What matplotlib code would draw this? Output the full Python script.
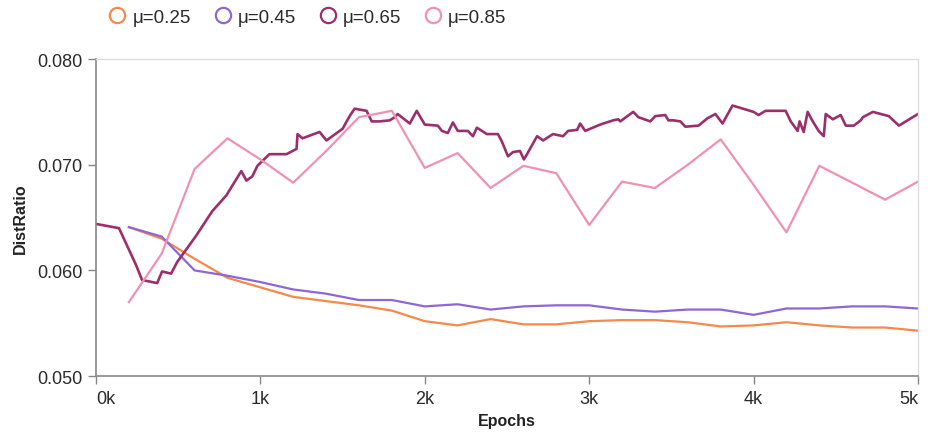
import numpy as np
import matplotlib.pyplot as plt
from matplotlib.lines import Line2D

plt.rcParams['font.family'] = ['Liberation Sans', 'DejaVu Sans']

# evaluation epochs shared by the three smoother runs
epochs = [200, 400, 600, 800, 1000, 1200, 1400, 1600, 1800, 2000,
          2200, 2400, 2600, 2800, 3000, 3200, 3400, 3600, 3800, 4000,
          4200, 4400, 4600, 4800, 5000]

mu025 = [0.0641, 0.0630, 0.0611, 0.0593, 0.0584, 0.0575, 0.0571, 0.0567, 0.0562, 0.0552,
         0.0548, 0.0554, 0.0549, 0.0549, 0.0552, 0.0553, 0.0553, 0.0551, 0.0547, 0.0548,
         0.0551, 0.0548, 0.0546, 0.0546, 0.0543]

mu045 = [0.0641, 0.0632, 0.0600, 0.0595, 0.0589, 0.0582, 0.0578, 0.0572, 0.0572, 0.0566,
         0.0568, 0.0563, 0.0566, 0.0567, 0.0567, 0.0563, 0.0561, 0.0563, 0.0563, 0.0558,
         0.0564, 0.0564, 0.0566, 0.0566, 0.0564]

mu085 = [0.0570, 0.0616, 0.0696, 0.0725, 0.0705, 0.0683, 0.0713, 0.0745, 0.0751, 0.0697,
         0.0711, 0.0678, 0.0699, 0.0692, 0.0643, 0.0684, 0.0678, 0.0700, 0.0724, 0.0681,
         0.0636, 0.0699, 0.0683, 0.0667, 0.0684]

# mu=0.65 is logged much more often
epochs065 = [0, 140, 244, 280, 372, 402, 457, 494, 610, 707, 793, 884, 915, 951, 982,
             1055, 1159, 1220, 1226, 1256, 1360, 1402, 1500, 1543, 1573, 1646, 1677,
             1726, 1787, 1817, 1835, 1909, 1951, 2000, 2079, 2104, 2140, 2171, 2201,
             2262, 2293, 2317, 2348, 2378, 2445, 2469, 2506, 2537, 2579, 2603, 2622,
             2683, 2720, 2780, 2841, 2872, 2927, 2945, 2976, 3067, 3146, 3177, 3189,
             3268, 3299, 3372, 3402, 3463, 3482, 3512, 3555, 3585, 3665, 3720, 3768,
             3811, 3872, 4000, 4030, 4073, 4195, 4226, 4268, 4280, 4305, 4329, 4360,
             4396, 4427, 4439, 4482, 4530, 4561, 4610, 4652, 4665, 4726, 4774, 4823,
             4884, 5000]
mu065 = [0.0644, 0.0640, 0.0605, 0.0591, 0.0588, 0.0599, 0.0597, 0.0608, 0.0633, 0.0656,
         0.0671, 0.0694, 0.0685, 0.0689, 0.0699, 0.0710, 0.0710, 0.0715, 0.0729, 0.0725,
         0.0731, 0.0723, 0.0734, 0.0746, 0.0753, 0.0751, 0.0741, 0.0741, 0.0742, 0.0745,
         0.0748, 0.0739, 0.0751, 0.0738, 0.0737, 0.0732, 0.0730, 0.0740, 0.0732, 0.0732,
         0.0727, 0.0735, 0.0732, 0.0729, 0.0729, 0.0722, 0.0708, 0.0712, 0.0713, 0.0705,
         0.0710, 0.0727, 0.0723, 0.0729, 0.0727, 0.0732, 0.0733, 0.0739, 0.0732, 0.0738,
         0.0742, 0.0743, 0.0741, 0.0750, 0.0745, 0.0741, 0.0746, 0.0747, 0.0742, 0.0742,
         0.0741, 0.0736, 0.0737, 0.0744, 0.0748, 0.0739, 0.0756, 0.0750, 0.0747, 0.0751,
         0.0751, 0.0741, 0.0732, 0.0741, 0.0731, 0.0750, 0.0741, 0.0732, 0.0727, 0.0748,
         0.0743, 0.0747, 0.0737, 0.0737, 0.0742, 0.0745, 0.0750, 0.0748, 0.0746, 0.0737,
         0.0748]

labels = ['μ=0.25', 'μ=0.45', 'μ=0.65', 'μ=0.85']
colors = ['#f5894a', '#8e66d6', '#9c2e6c', '#f090b2']

fig = plt.figure(figsize=(9.31, 4.35), dpi=100)
ax = fig.add_axes([0.1031, 0.133, 0.8829, 0.729])

ax.plot(epochs, mu025, color=colors[0], lw=1.6)
ax.plot(epochs, mu045, color=colors[1], lw=1.6)
ax.plot(epochs065, mu065, color=colors[2], lw=1.9)
ax.plot(epochs, mu085, color=colors[3], lw=1.6)

ax.set_xlim(0, 5000)
ax.set_ylim(0.050, 0.080)
ax.set_xticks([0, 1000, 2000, 3000, 4000, 5000])
ax.set_xticklabels(['0k', '1k', '2k', '3k', '4k', '5k'])
ax.set_yticks([0.050, 0.060, 0.070, 0.080])
ax.set_yticklabels(['0.050', '0.060', '0.070', '0.080'])
ax.tick_params(axis='both', colors='#888888', labelcolor='#2a2a2a',
               length=6, width=1, labelsize=13)
ax.tick_params(axis='x', pad=4)

# first and last x labels sit flush with the plot edges
xl = ax.get_xticklabels()
xl[0].set_ha('left')
xl[-1].set_ha('right')

for side in ['left', 'bottom']:
    ax.spines[side].set_color('#888888')
    ax.spines[side].set_linewidth(1.2)
for side in ['top', 'right']:
    ax.spines[side].set_color('#dddddd')
    ax.spines[side].set_linewidth(1)

ax.set_xlabel('Epochs', fontsize=11.5, fontweight='bold', color='#222222', labelpad=4)
ax.set_ylabel('DistRatio', fontsize=11.5, fontweight='bold', color='#222222', labelpad=7)

handles = [Line2D([], [], ls='none', marker='o', markersize=11, markerfacecolor='none',
                  markeredgecolor=c, markeredgewidth=1.6) for c in colors]
fig.legend(handles, labels, loc='center left', bbox_to_anchor=(0.098, 0.958),
           ncol=4, frameon=False, fontsize=13.5, handletextpad=0.3,
           columnspacing=1.2, handlelength=1.0, labelcolor='#2a2a2a')

fig.savefig('out.png', dpi=100)
